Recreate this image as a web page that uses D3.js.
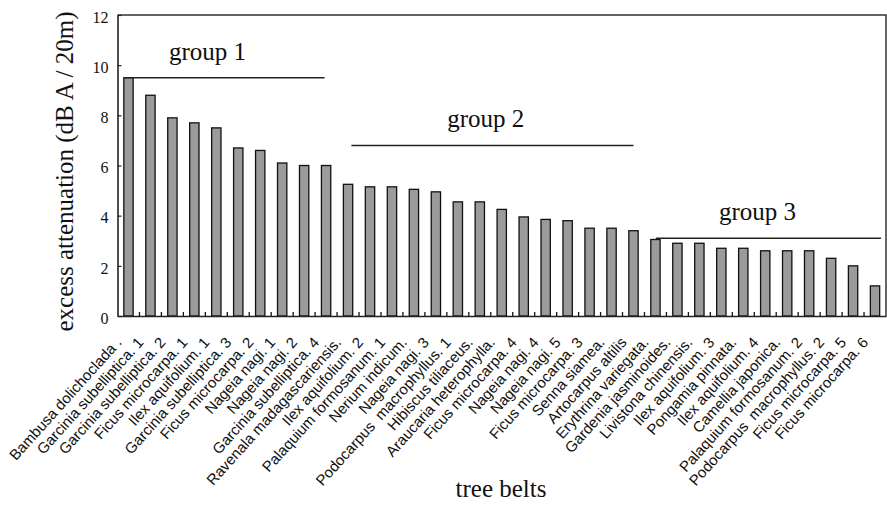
<!DOCTYPE html>
<html>
<head>
<meta charset="utf-8">
<script src="https://cdn.jsdelivr.net/npm/d3@7"></script>
<style>
  html, body { margin: 0; padding: 0; background: #fff; }
  svg { display: block; }
  .xl text { white-space: pre; }
</style>
</head>
<body>
<svg id="chart" width="887" height="506"></svg>
<script>
// ---- data ----
const categories = [
  "Bambusa dolichoclada .",
  "Garcinia subelliptica. 1",
  "Garcinia subelliptica. 2",
  "Ficus microcarpa. 1",
  "Ilex aquifolium. 1",
  "Garcinia subelliptica. 3",
  "Ficus microcarpa. 2",
  "Nageia nagi. 1",
  "Nageia nagi. 2",
  "Garcinia subelliptica. 4",
  "Ravenala madagascariensis.",
  "Ilex aquifolium. 2",
  "Palaquium formosanum. 1",
  "Nerium indicum.",
  "Nageia nagi. 3",
  "Podocarpus  macrophyllus. 1",
  "Hibiscus tiliaceus.",
  "Araucaria heterophylla.",
  "Ficus microcarpa. 4",
  "Nageia nagi. 4",
  "Nageia nagi. 5",
  "Ficus microcarpa. 3",
  "Senna siamea.",
  "Artocarpus altilis",
  "Erythrina variegata.",
  "Gardenia jasminoides.",
  "Livistona chinensis.",
  "Ilex aquifolium. 3",
  "Pongamia pinnata.",
  "Ilex aquifolium. 4",
  "Camellia japonica.",
  "Palaquium formosanum. 2",
  "Podocarpus  macrophyllus. 2",
  "Ficus microcarpa. 5",
  "Ficus microcarpa. 6"
];
const attenuation = [
  9.5, 8.8, 7.9, 7.7, 7.5, 6.7, 6.6, 6.1, 6.0, 6.0,
  5.25, 5.15, 5.15, 5.05, 4.95, 4.55, 4.55, 4.25, 3.95, 3.85,
  3.8, 3.5, 3.5, 3.4, 3.05, 2.9, 2.9, 2.7, 2.7, 2.6,
  2.6, 2.6, 2.3, 2.0, 1.2
];
const yTicks = [0, 2, 4, 6, 8, 10, 12];
const groupNames = ["group 1", "group 2", "group 3"];
const groupLevel = [9.5, 6.8, 3.1];          // y value of each group's line
const groupFrom  = [-0.18, 10.15, 24.02];      // bar-index position where the line starts
const groupTo    = [8.93, 23.0, 34.27];        // bar-index position where the line ends
const groupTextAt = [3.6, 16.27, 28.65];       // bar-index position of label centre
const yTitle = "excess attenuation (dB A / 20m)";
const xTitle = "tree belts";

// ---- layout ----
const svg = d3.select("#chart");
const mLeft = 117.5, mRight = 886, mTop = 15, mBottom = 316;
const serif = "'Liberation Serif', 'Times New Roman', serif";

const x = d3.scaleBand()
  .domain(categories)
  .range([mLeft, mRight])
  .paddingInner(0.575)
  .paddingOuter(0.2875);
const y = d3.scaleLinear().domain([0, 12]).range([mBottom, mTop]);

const pos = i => x(categories[0]) + x.bandwidth() / 2 + i * x.step();

// frame (top and right)
svg.append("path")
  .attr("d", `M${mLeft},${mTop}H${mRight}V${mBottom}`)
  .attr("fill", "none").attr("stroke", "#333").attr("stroke-width", 1.5);

// bars
svg.append("g").selectAll("rect")
  .data(attenuation)
  .join("rect")
  .attr("x", (d, i) => x(categories[i]))
  .attr("width", x.bandwidth())
  .attr("y", d => y(d))
  .attr("height", d => y(0) - y(d))
  .attr("fill", "#9b9b9b")
  .attr("stroke", "#111")
  .attr("stroke-width", 1.3);

// separator ticks on the x axis
svg.append("g").selectAll("line")
  .data(categories.slice(0, -1))
  .join("line")
  .attr("x1", (d, i) => pos(i) + x.step() / 2)
  .attr("x2", (d, i) => pos(i) + x.step() / 2)
  .attr("y1", mBottom).attr("y2", mBottom - 4)
  .attr("stroke", "#111").attr("stroke-width", 1.3);

// y axis
const yAxis = svg.append("g")
  .attr("transform", `translate(${mLeft},0)`)
  .call(d3.axisLeft(y).tickValues(yTicks).tickSize(-4).tickPadding(9).tickSizeOuter(0));
yAxis.select(".domain").attr("stroke", "#222").attr("stroke-width", 1.6);
yAxis.selectAll(".tick line").attr("stroke", "#222").attr("stroke-width", 1.2);
yAxis.selectAll("text")
  .attr("font-family", serif)
  .attr("font-size", 16).attr("fill", "#111")
  .attr("dy", "0.45em");

// x axis
const xAxis = svg.append("g")
  .attr("class", "xl")
  .attr("transform", `translate(0,${mBottom})`)
  .call(d3.axisBottom(x).tickSize(0).tickSizeOuter(0));
xAxis.select(".domain").attr("stroke", "#222").attr("stroke-width", 1.6);
xAxis.selectAll("text")
  .attr("font-family", "'Liberation Sans', Arial, sans-serif")
  .attr("font-size", 15).attr("fill", "#111")
  .attr("text-anchor", "end")
  .attr("x", 0).attr("y", 0).attr("dy", 0)
  .attr("transform", "translate(-6,27) rotate(-48)");

// group lines and labels
const gg = svg.append("g");
groupNames.forEach((name, k) => {
  gg.append("line")
    .attr("x1", pos(groupFrom[k])).attr("x2", pos(groupTo[k]))
    .attr("y1", y(groupLevel[k])).attr("y2", y(groupLevel[k]))
    .attr("stroke", "#222").attr("stroke-width", 1.5);
  gg.append("text")
    .attr("x", pos(groupTextAt[k]))
    .attr("y", y(groupLevel[k]) - 18)
    .attr("text-anchor", "middle")
    .attr("font-family", serif)
    .attr("font-size", 25).attr("fill", "#111")
    .text(name);
});

// axis titles
svg.append("text")
  .attr("transform", `translate(73,${(10 + 333) / 2}) rotate(-90)`)
  .attr("text-anchor", "middle")
  .attr("font-family", serif)
  .attr("font-size", 25).attr("fill", "#111")
  .text(yTitle);
svg.append("text")
  .attr("x", 501).attr("y", 497)
  .attr("text-anchor", "middle")
  .attr("font-family", serif)
  .attr("font-size", 25).attr("fill", "#111")
  .text(xTitle);
</script>
</body>
</html>
